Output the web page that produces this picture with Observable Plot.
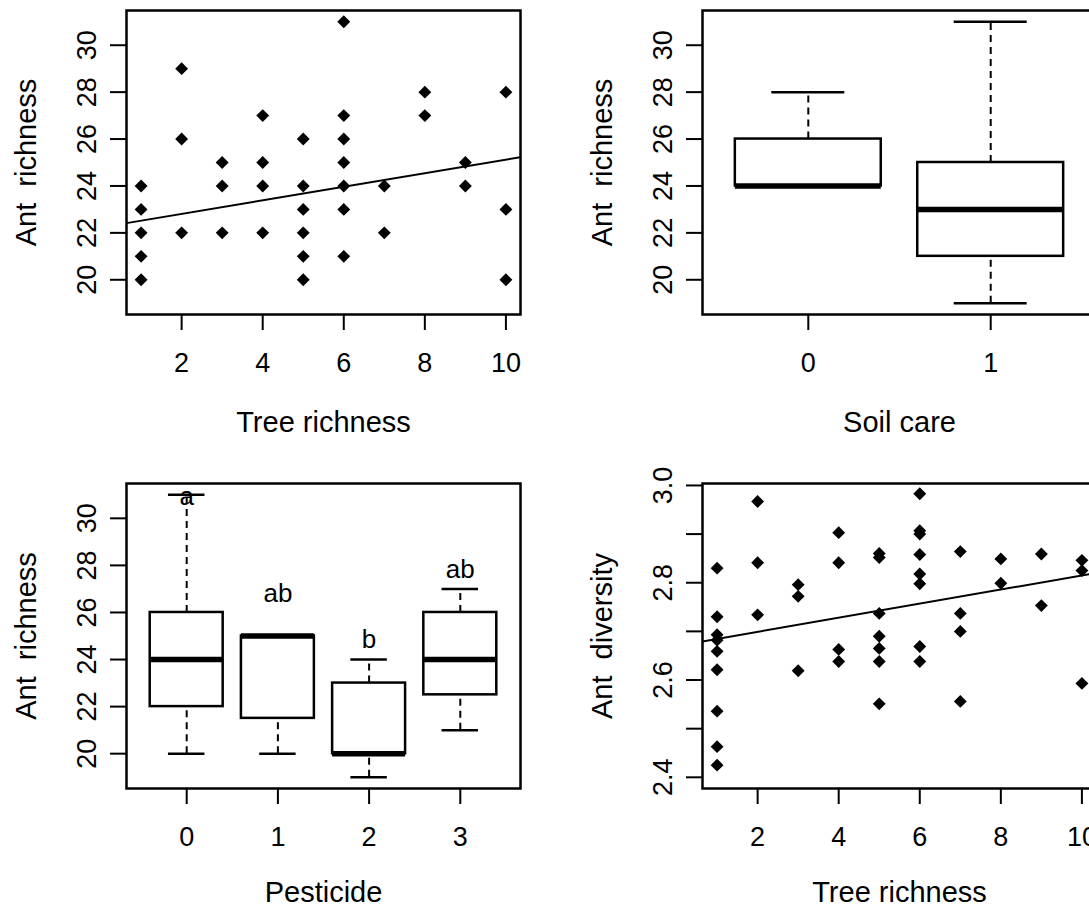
<!DOCTYPE html>
<html><head><meta charset="utf-8">
<script src="https://cdn.jsdelivr.net/npm/d3@7"></script>
<script src="https://cdn.jsdelivr.net/npm/@observablehq/plot@0.6"></script>
<style>
body{margin:0;background:#fff}
#wrap{position:relative;width:1089px;height:907px;overflow:hidden;background:#fff}
#wrap svg{position:absolute}
</style></head><body><div id="wrap"></div>
<script>
// ---------- Data ----------
// Panel 1: Tree richness vs Ant richness
const treeRichness1 = [1,1,1,1,1, 2,2,2, 3,3,3, 4,4,4,4, 5,5,5,5,5,5, 6,6,6,6,6,6,6, 7,7, 8,8, 9,9, 10,10,10];
const antRichness1  = [24,23,22,21,20, 29,26,22, 25,24,22, 27,25,24,22, 26,24,23,22,21,20, 31,27,26,25,24,23,21, 24,22, 28,27, 25,24, 28,23,20];
const fit1 = {intercept: 22.23, slope: 0.289};

// Panel 2: Soil care boxplot
const soilCare = ["0", "1"];
const soilMin = [24, 19];
const soilQ1  = [24, 21];
const soilMed = [24, 23];
const soilQ3  = [26, 25];
const soilMax = [28, 31];

// Panel 3: Pesticide boxplot
const pesticide = ["0", "1", "2", "3"];
const pestMin = [20, 20, 19, 21];
const pestQ1  = [22, 21.5, 20, 22.5];
const pestMed = [24, 25, 20, 24];
const pestQ3  = [26, 25, 23, 26];
const pestMax = [31, 25, 24, 27];
const pestLetters = ["a", "ab", "b", "ab"];
const pestLetterY = [30.94, 26.8, 24.85, 27.83];

// Panel 4: Tree richness vs Ant diversity
const treeRichness4 = [1,1,1,1,1,1,1,1,1, 2,2,2, 3,3,3, 4,4,4,4, 5,5,5,5,5,5,5, 6,6,6,6,6,6,6,6, 7,7,7,7, 8,8, 9,9, 10,10,10];
const antDiversity4 = [2.830,2.730,2.693,2.682,2.659,2.621,2.536,2.463,2.425,
  2.967,2.841,2.734,
  2.796,2.772,2.619,
  2.903,2.841,2.663,2.638,
  2.860,2.852,2.737,2.690,2.665,2.638,2.551,
  2.983,2.907,2.900,2.858,2.818,2.798,2.669,2.638,
  2.864,2.737,2.700,2.556,
  2.849,2.799,
  2.859,2.753,
  2.846,2.825,2.593];
const fit4 = {intercept: 2.670, slope: 0.0145};

// Axis ticks and labels
const treeTicks = [2, 4, 6, 8, 10];
const richTicks = [20, 22, 24, 26, 28, 30];
const divTicks = [2.4, 2.5, 2.6, 2.7, 2.8, 2.9, 3.0];
const divTickLabels = ["2.4", "", "2.6", "", "2.8", "", "3.0"];
const labTree = "Tree richness", labRich = "Ant richness", labDiv = "Ant diversity";
const labSoil = "Soil care", labPest = "Pesticide";

// ---------- Helpers ----------
const wrap = document.getElementById("wrap");
const FONT = "'Liberation Sans', Arial, Helvetica, sans-serif";
const TICKFS = 27, LABFS = 29, SW = 2.5;
function place(svg, left, top) {
  svg.style.left = left + "px"; svg.style.top = top + "px";
  svg.querySelectorAll("text").forEach(t => { if (/^Ant /.test(t.textContent)) t.style.wordSpacing = "8px"; });
  wrap.appendChild(svg);
}
const style = {fontFamily: FONT, fontSize: TICKFS + "px", background: "transparent", overflow: "visible", color: "black"};

function axesMarks(xTicks, xFmt, yTicks, yFmt, xLab, yLab, xLabDy) {
  return [
    Plot.axisX({ticks: xTicks, tickFormat: xFmt, tickSize: 16, tickPadding: 22, strokeWidth: 2, fontSize: TICKFS, label: null}),
    Plot.axisY({ticks: yTicks, tickFormat: yFmt, tickSize: 16, tickPadding: 15, tickRotate: -90, strokeWidth: 2, fontSize: TICKFS, label: null}),
    Plot.text([xLab], {frameAnchor: "bottom", dy: xLabDy, textAnchor: "middle", lineAnchor: "middle", fontSize: LABFS}),
    Plot.text([yLab], {frameAnchor: "left", dx: -100, rotate: -90, textAnchor: "middle", lineAnchor: "middle", fontSize: LABFS}),
    Plot.frame({strokeWidth: SW})
  ];
}
function boxMarks(b) {
  const dash = {strokeDasharray: "7,5", strokeWidth: 2};
  return [
    Plot.ruleX(b, {x: "pos", y1: "q3", y2: "max", ...dash}),
    Plot.ruleX(b, {x: "pos", y1: "min", y2: "q1", ...dash}),
    Plot.ruleY(b, {y: "max", x1: d => d.pos - 0.2, x2: d => d.pos + 0.2, strokeWidth: SW}),
    Plot.ruleY(b, {y: "min", x1: d => d.pos - 0.2, x2: d => d.pos + 0.2, strokeWidth: SW}),
    Plot.rect(b, {x1: d => d.pos - 0.4, x2: d => d.pos + 0.4, y1: "q1", y2: "q3", fill: "white", stroke: "black", strokeWidth: SW}),
    Plot.ruleY(b, {y: "med", x1: d => d.pos - 0.4, x2: d => d.pos + 0.4, strokeWidth: 5.5})
  ];
}
const fmtNum = d => String(d);

// ---------- Panel 1 ----------
{
  const xDom = [0.64, 10.36];
  const pts = treeRichness1.map((x, i) => ({x, y: antRichness1[i]}));
  const line = xDom.map(x => ({x, y: fit1.intercept + fit1.slope * x}));
  place(Plot.plot({
    width: 545, height: 450, marginLeft: 126, marginRight: 25, marginTop: 10, marginBottom: 136,
    style, x: {domain: xDom}, y: {domain: [18.52, 31.48]},
    marks: [
      ...axesMarks(treeTicks, fmtNum, richTicks, fmtNum, labTree, labRich, 108),
      Plot.line(line, {x: "x", y: "y", strokeWidth: 2, clip: true}),
      Plot.dot(pts, {x: "x", y: "y", symbol: "diamond2", r: 5.8, fill: "black", stroke: "none"})
    ]
  }), 0, 0);
}

// ---------- Panel 2 ----------
{
  const boxes = soilCare.map((g, i) => ({pos: i + 1, min: soilMin[i], q1: soilQ1[i], med: soilMed[i], q3: soilQ3[i], max: soilMax[i]}));
  place(Plot.plot({
    width: 561, height: 450, marginLeft: 157, marginRight: 10, marginTop: 10, marginBottom: 136,
    style, x: {domain: [0.42, 2.58]}, y: {domain: [18.52, 31.48]},
    marks: [
      ...boxMarks(boxes),
      ...axesMarks([1, 2], d => soilCare[d - 1], richTicks, fmtNum, labSoil, labRich, 108)
    ]
  }), 545, 0);
}

// ---------- Panel 3 ----------
{
  const boxes = pesticide.map((g, i) => ({pos: i + 1, min: pestMin[i], q1: pestQ1[i], med: pestMed[i], q3: pestQ3[i], max: pestMax[i], letter: pestLetters[i], ly: pestLetterY[i]}));
  place(Plot.plot({
    width: 545, height: 457, marginLeft: 126, marginRight: 25, marginTop: 33, marginBottom: 119,
    style, x: {domain: [0.34, 4.66]}, y: {domain: [18.52, 31.48]},
    marks: [
      ...boxMarks(boxes),
      Plot.text(boxes, {x: "pos", y: "ly", text: "letter", fontSize: 26, lineAnchor: "middle"}),
      ...axesMarks([1, 2, 3, 4], d => pesticide[d - 1], richTicks, fmtNum, labPest, labRich, 104)
    ]
  }), 0, 450);
}

// ---------- Panel 4 ----------
{
  const xDom = [0.64, 10.36];
  const pts = treeRichness4.map((x, i) => ({x, y: antDiversity4[i]}));
  const line = xDom.map(x => ({x, y: fit4.intercept + fit4.slope * x}));
  place(Plot.plot({
    width: 561, height: 457, marginLeft: 157, marginRight: 10, marginTop: 33, marginBottom: 119,
    style, x: {domain: xDom}, y: {domain: [2.377, 3.004]},
    marks: [
      ...axesMarks(treeTicks, fmtNum, divTicks, d => divTickLabels[divTicks.indexOf(d)], labTree, labDiv, 104),
      Plot.line(line, {x: "x", y: "y", strokeWidth: 2, clip: true}),
      Plot.dot(pts, {x: "x", y: "y", symbol: "diamond2", r: 5.8, fill: "black", stroke: "none"})
    ]
  }), 545, 450);
}
</script></body></html>
